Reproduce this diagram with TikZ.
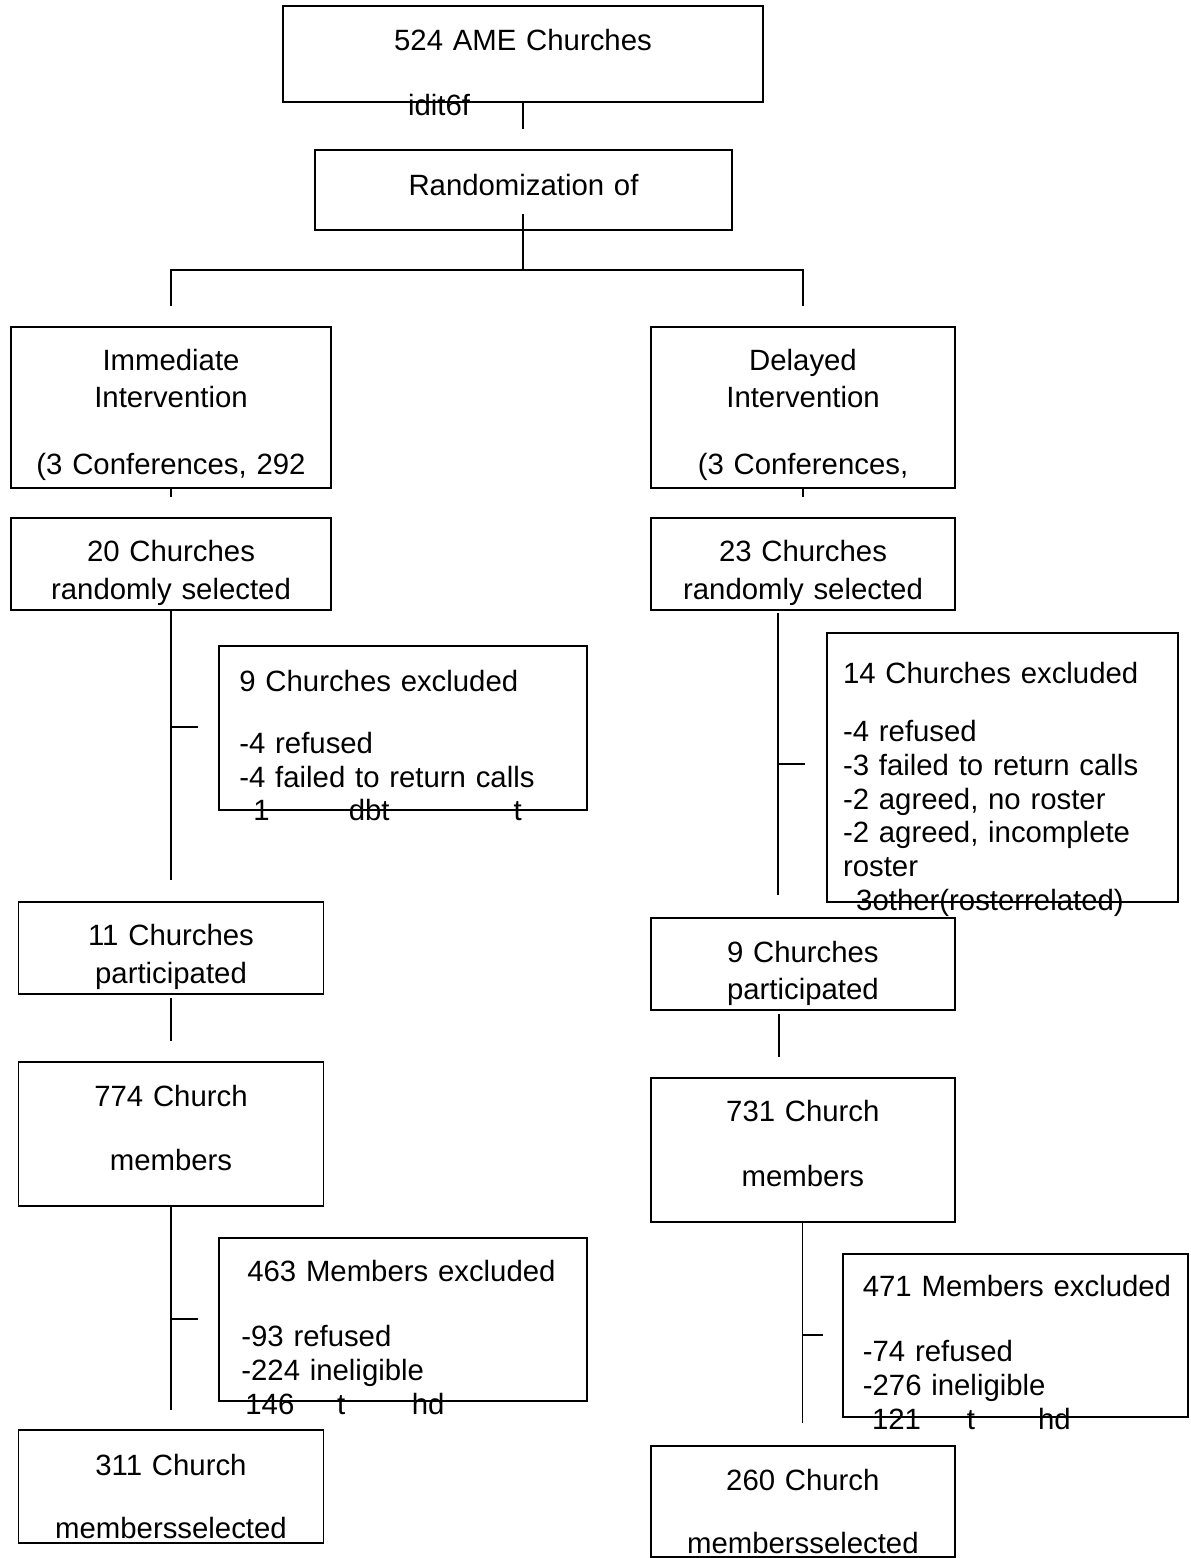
\documentclass[tikz,border=0pt]{standalone}
\usepackage{fontspec}
\setmainfont{Liberation Sans}
\usetikzlibrary{positioning}

\begin{document}
\begin{tikzpicture}[x=0.02cm,y=-0.02cm,
  box/.style={draw,line width=1.1pt,inner sep=0pt},
  ctxt/.style={inner sep=0pt,anchor=base,align=center,text width=6cm,font=\fontsize{16.7}{21.45}\selectfont},
  ltxt/.style={inner sep=0pt,anchor=base west,align=left,text width=6.6cm,font=\fontsize{16.7}{19.2}\selectfont},
  ln/.style={line width=1.1pt}]
  \useasboundingbox (0,0) rectangle (1190,1558);
  % Top of the tree
  \node[box,minimum width=9.6cm,minimum height=1.914cm] (ame) at (523,53.85) {};
  \node[ctxt] (ametxt) at (523,50.7) {524 AME Churches};
  \node[ctxt] (idit) at (439,115) {idit6f};
  \node[box,minimum width=8.34cm,minimum height=1.6cm] (rand) at (523.5,190) {};
  \node[ctxt] (randtxt) at (523.5,195) {Randomization of};
  % Immediate arm
  \node[box,minimum width=6.4cm,minimum height=3.232cm] (imm) at (171,407.5) {};
  \node[ctxt] (immtxt) at (171,370) {Immediate\\Intervention\\[16.85pt](3 Conferences, 292};
  \node[box,minimum width=6.4cm,minimum height=1.84cm] (sel20) at (171,564) {};
  \node[ctxt] (sel20txt) at (171,561.7) {20 Churches\\randomly selected};
  \node[box,minimum width=7.36cm,minimum height=3.28cm] (exc9) at (403.3,728) {};
  \node[ltxt] (exc9txt) at (239,691) {9 Churches excluded\\[16.3pt]-4 refused\\-4 failed to return calls\\\hspace*{8pt}1\hspace*{45pt}dbt\hspace*{70.6pt}t};
  \node[box,minimum width=6.1cm,minimum height=1.84cm] (par11) at (171,948.3) {};
  \node[ctxt] (par11txt) at (171,945.7) {11 Churches\\participated};
  \node[box,minimum width=6.1cm,minimum height=2.868cm] (mem774) at (171,1134) {};
  \node[ctxt] (mem774txt) at (171,1106) {774 Church\\[15pt]members};
  \node[box,minimum width=7.36cm,minimum height=3.248cm] (exc463) at (403.3,1319.5) {};
  \node[ltxt] (exc463txt) at (241,1281.7) {\hspace*{3.4pt}463 Members excluded\\[17.8pt]-93 refused\\-224 ineligible\\\hspace*{2.3pt}146\hspace*{24.3pt}t\hspace*{38pt}hd};
  \node[box,minimum width=6.1cm,minimum height=2.254cm] (sel311) at (171,1486.35) {};
  \node[ctxt] (sel311txt) at (171,1475) {311 Church\\[14.4pt]membersselected};
  % Delayed arm
  \node[box,minimum width=6.08cm,minimum height=3.232cm] (del) at (803,407.5) {};
  \node[ctxt] (deltxt) at (803,370) {Delayed\\Intervention\\[16.85pt](3 Conferences,};
  \node[box,minimum width=6.08cm,minimum height=1.84cm] (sel23) at (803,564) {};
  \node[ctxt] (sel23txt) at (803,561.7) {23 Churches\\randomly selected};
  \node[box,minimum width=7.026cm,minimum height=5.368cm] (exc14) at (1002.35,767.5) {};
  \node[ltxt] (exc14txt) at (842.7,683.3) {14 Churches excluded\\[14pt]-4 refused\\-3 failed to return calls\\-2 agreed, no roster\\-2 agreed, incomplete\\roster\\\hspace*{7.5pt}3other(rosterrelated)};
  \node[box,minimum width=6.086cm,minimum height=1.834cm] (par9) at (802.85,964.15) {};
  \node[ctxt] (par9txt) at (802.85,962.3) {9 Churches\\participated};
  \node[box,minimum width=6.086cm,minimum height=2.88cm] (mem731) at (802.85,1150.3) {};
  \node[ctxt] (mem731txt) at (802.85,1121.7) {731 Church\\[15.5pt]members};
  \node[box,minimum width=6.906cm,minimum height=3.254cm] (exc471) at (1015.35,1335.35) {};
  \node[ltxt] (exc471txt) at (862.5,1296.7) {471 Members excluded\\[17.8pt]-74 refused\\-276 ineligible\\\hspace*{5.2pt}121\hspace*{26.2pt}t\hspace*{35.8pt}hd};
  \node[box,minimum width=6.086cm,minimum height=2.214cm] (sel260) at (802.85,1501.35) {};
  \node[ctxt] (sel260txt) at (802.85,1490.7) {260 Church\\[14.2pt]membersselected};
  % Connector ends
  \coordinate (a1) at (523,129);
  \coordinate (r0) at (523,214);
  \coordinate (j0) at (523,270);
  \coordinate (jl) at (171,270);
  \coordinate (jr) at (803,270);
  \coordinate (jl1) at (171,306);
  \coordinate (jr1) at (803,306);
  \coordinate (t1) at (171,497);
  \coordinate (t2) at (803,497);
  \coordinate (l1) at (171,880);
  \coordinate (l1a) at (171,727);
  \coordinate (l1b) at (198,727);
  \coordinate (r1t) at (778,613);
  \coordinate (r1) at (778,895);
  \coordinate (r1a) at (778,764);
  \coordinate (r1b) at (805,764);
  \coordinate (l2t) at (171,998);
  \coordinate (l2) at (171,1041);
  \coordinate (r2t) at (779,1014);
  \coordinate (r2) at (779,1057);
  \coordinate (l3) at (171,1410);
  \coordinate (l3a) at (171,1319);
  \coordinate (l3b) at (198,1319);
  \coordinate (r3t) at (802.5,1222);
  \coordinate (r3) at (802.5,1423);
  \coordinate (r3a) at (802.5,1335);
  \coordinate (r3b) at (823,1335);
  % Connectors
  \draw[ln] (ame.south) -- (a1);
  \draw[ln] (r0) -- (j0);
  \draw[ln] (jl1) -- (jl) -- (jr) -- (jr1);
  \draw[ln] (imm.south) -- (t1);
  \draw[ln] (del.south) -- (t2);
  \draw[ln] (sel20.south) -- (l1); \draw[ln] (l1a) -- (l1b);
  \draw[ln] (r1t) -- (r1); \draw[ln] (r1a) -- (r1b);
  \draw[ln] (l2t) -- (l2);
  \draw[ln] (r2t) -- (r2);
  \draw[ln] (mem774.south) -- (l3); \draw[ln] (l3a) -- (l3b);
  \draw[ln] (r3t) -- (r3); \draw[ln] (r3a) -- (r3b);
\end{tikzpicture}
\end{document}
